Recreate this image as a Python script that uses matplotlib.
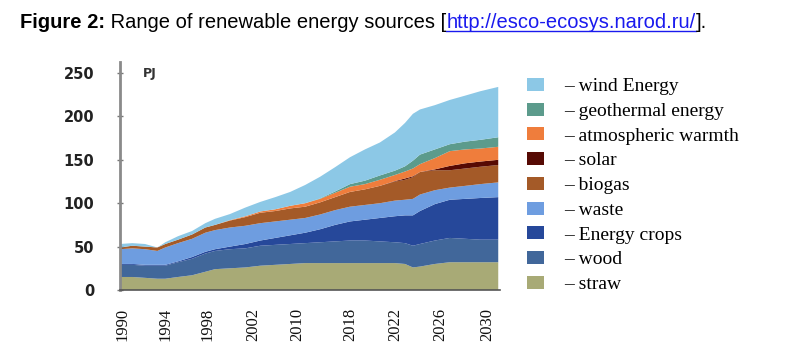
import matplotlib
matplotlib.use("Agg")
import matplotlib.pyplot as plt
from matplotlib.lines import Line2D

# ---------------- data (PJ) ----------------
x_pos = [-0.05, 0.23, 0.52, 0.80, 0.98, 1.27, 1.59, 1.89, 2.11, 2.45, 2.80, 3.14,
         3.48, 3.82, 4.16, 4.50, 4.84, 5.18, 5.52, 5.86, 6.20, 6.43, 6.61, 6.77,
         7.11, 7.45, 7.80, 8.14, 8.55]

straw = [15, 15, 14, 13, 13, 15, 17, 21, 24, 25, 26, 28, 29, 30, 31, 31, 31, 31,
         31, 31, 31, 30, 26, 27, 30, 32, 32, 32, 32]
wood = [14, 14, 14, 15, 15, 17, 19, 21, 21, 22, 22, 23, 23, 23, 23, 24, 25, 26,
        26, 25, 24, 24, 25, 26, 27, 28, 27, 26, 26]
energy_crops = [1, 1, 1, 1, 1, 1, 2, 2, 2, 3, 5, 6, 8, 10, 12, 15, 19, 22, 24, 27,
                30, 32, 35, 38, 42, 44, 46, 48, 49]
waste = [17, 18, 18, 16, 20, 21, 21, 22, 22, 22, 21, 20, 19, 18, 17, 17, 17, 17,
         17, 17, 18, 18, 19, 19, 16, 14, 15, 16, 17]
biogas = [2, 3, 3, 4, 4, 4, 5, 6, 6, 8, 10, 12, 12, 13, 13, 14, 15, 17, 18, 20,
          22, 23, 25, 26, 23, 20, 20, 20, 20]
solar = [0, 0, 0, 0, 0, 0, 0, 0, 0, 0, 0, 0, 0, 0, 0, 0, 0, 0, 0, 0,
         0.5, 1.5, 1, 0, 1, 5, 6, 6, 6]
atmospheric = [0, 0, 0, 0, 0, 0, 0, 0, 0, 0.5, 1, 1.5, 2, 3, 4, 4, 5, 6, 6, 7,
               7, 8, 9, 9, 13, 17, 16, 15, 15]
geothermal = [0, 0, 0, 0, 0, 0, 0, 0, 0, 0, 0, 0, 0, 0, 0, 0.5, 1.5, 3, 4, 5,
              5, 6, 9, 11, 10, 8, 9, 10, 11]
wind = [4, 3, 3, 0, 2, 4, 4, 5, 7, 7, 10, 11, 14, 16, 21, 25, 28, 31, 36, 38,
        44, 50, 54, 52, 51, 51, 53, 56, 58]

series = [straw, wood, energy_crops, waste, biogas, solar, atmospheric,
          geothermal, wind]
labels = ["– straw", "– wood", "– Energy crops", "– waste", "– biogas",
          "– solar", "– atmospheric warmth", "– geothermal energy",
          "– wind Energy"]
colors = ["#a8aa76", "#41679a", "#26489a", "#6e9de0", "#a45a28", "#560a04",
          "#ef7d3c", "#5c9b8c", "#8cc8e6"]

tick_labels = ["1990", "1994", "1998", "2002", "2010", "2018", "2022", "2026",
               "2030"]
tick_pos = [0, 0.98, 1.95, 2.98, 3.98, 5.18, 6.2, 7.23, 8.3]
y_ticks = [0, 50, 100, 150, 200, 250]

# ---------------- figure ----------------
W, H = 806, 363
fig = plt.figure(figsize=(W / 100, H / 100), dpi=100)
fig.patch.set_facecolor("white")

ax = fig.add_axes([120 / W, 73 / H, 380 / W, 228 / H])
polys = ax.stackplot(x_pos, *series, colors=colors, labels=labels,
                     linewidth=0)
ax.set_xlim(-0.05, 8.59)
ax.set_ylim(0, 262.7)

for s in ("top", "right"):
    ax.spines[s].set_visible(False)
ax.spines["left"].set_color("#8a8a8a")
ax.spines["left"].set_linewidth(2)
ax.spines["bottom"].set_color("#555555")
ax.spines["bottom"].set_linewidth(1.2)

ax.set_yticks(y_ticks)
ax.set_yticklabels([str(v) for v in y_ticks], fontfamily="DejaVu Sans",
                   fontweight="bold", fontsize=10.5, color="#222222")
ax.tick_params(axis="y", direction="inout", length=5, width=1,
               color="#777777", pad=16)

ax.set_xticks(tick_pos)
ax.set_xticklabels(tick_labels, rotation=90, fontfamily="Liberation Serif",
                   fontsize=12, color="#111111")
ax.tick_params(axis="x", length=0, pad=13)

ax.text(0.06, 0.95, "PJ", transform=ax.transAxes, fontfamily="DejaVu Sans",
        fontweight="bold", fontsize=9, color="#333333", va="center",
        ha="left")

# legend (top row = wind)
handles = list(polys)[::-1]
leg_labels = labels[::-1]
leg = fig.legend(handles, leg_labels, loc="upper left",
                 bbox_to_anchor=(527 / W, 1 - 78 / H), frameon=False,
                 borderpad=0, borderaxespad=0, handlelength=0.85,
                 handleheight=0.65, handletextpad=1.05, labelspacing=0.38,
                 prop={"family": "Liberation Serif", "size": 14})

# title pieces
renderer = fig.canvas.get_renderer()
x0 = 20 / W
yb = 1 - 28 / H
pieces = [("Figure 2:", "bold", "black"),
          (" Range of renewable energy sources [", "normal", "black"),
          ("http://esco-ecosys.narod.ru/", "normal", "#1a1aee"),
          ("].", "normal", "black")]
xc = x0
for txt, wt, col in pieces:
    t = fig.text(xc, yb, txt, fontfamily="Liberation Sans", fontsize=14.5,
                 fontweight=wt, color=col, va="baseline", ha="left")
    bb = t.get_window_extent(renderer=renderer)
    if txt.startswith("http"):
        fig.add_artist(Line2D([bb.x0 / W, bb.x1 / W],
                              [yb - 2.5 / H, yb - 2.5 / H],
                              color=col, linewidth=1))
    xc = bb.x1 / W

fig.savefig("out.png", dpi=100, facecolor="white")
